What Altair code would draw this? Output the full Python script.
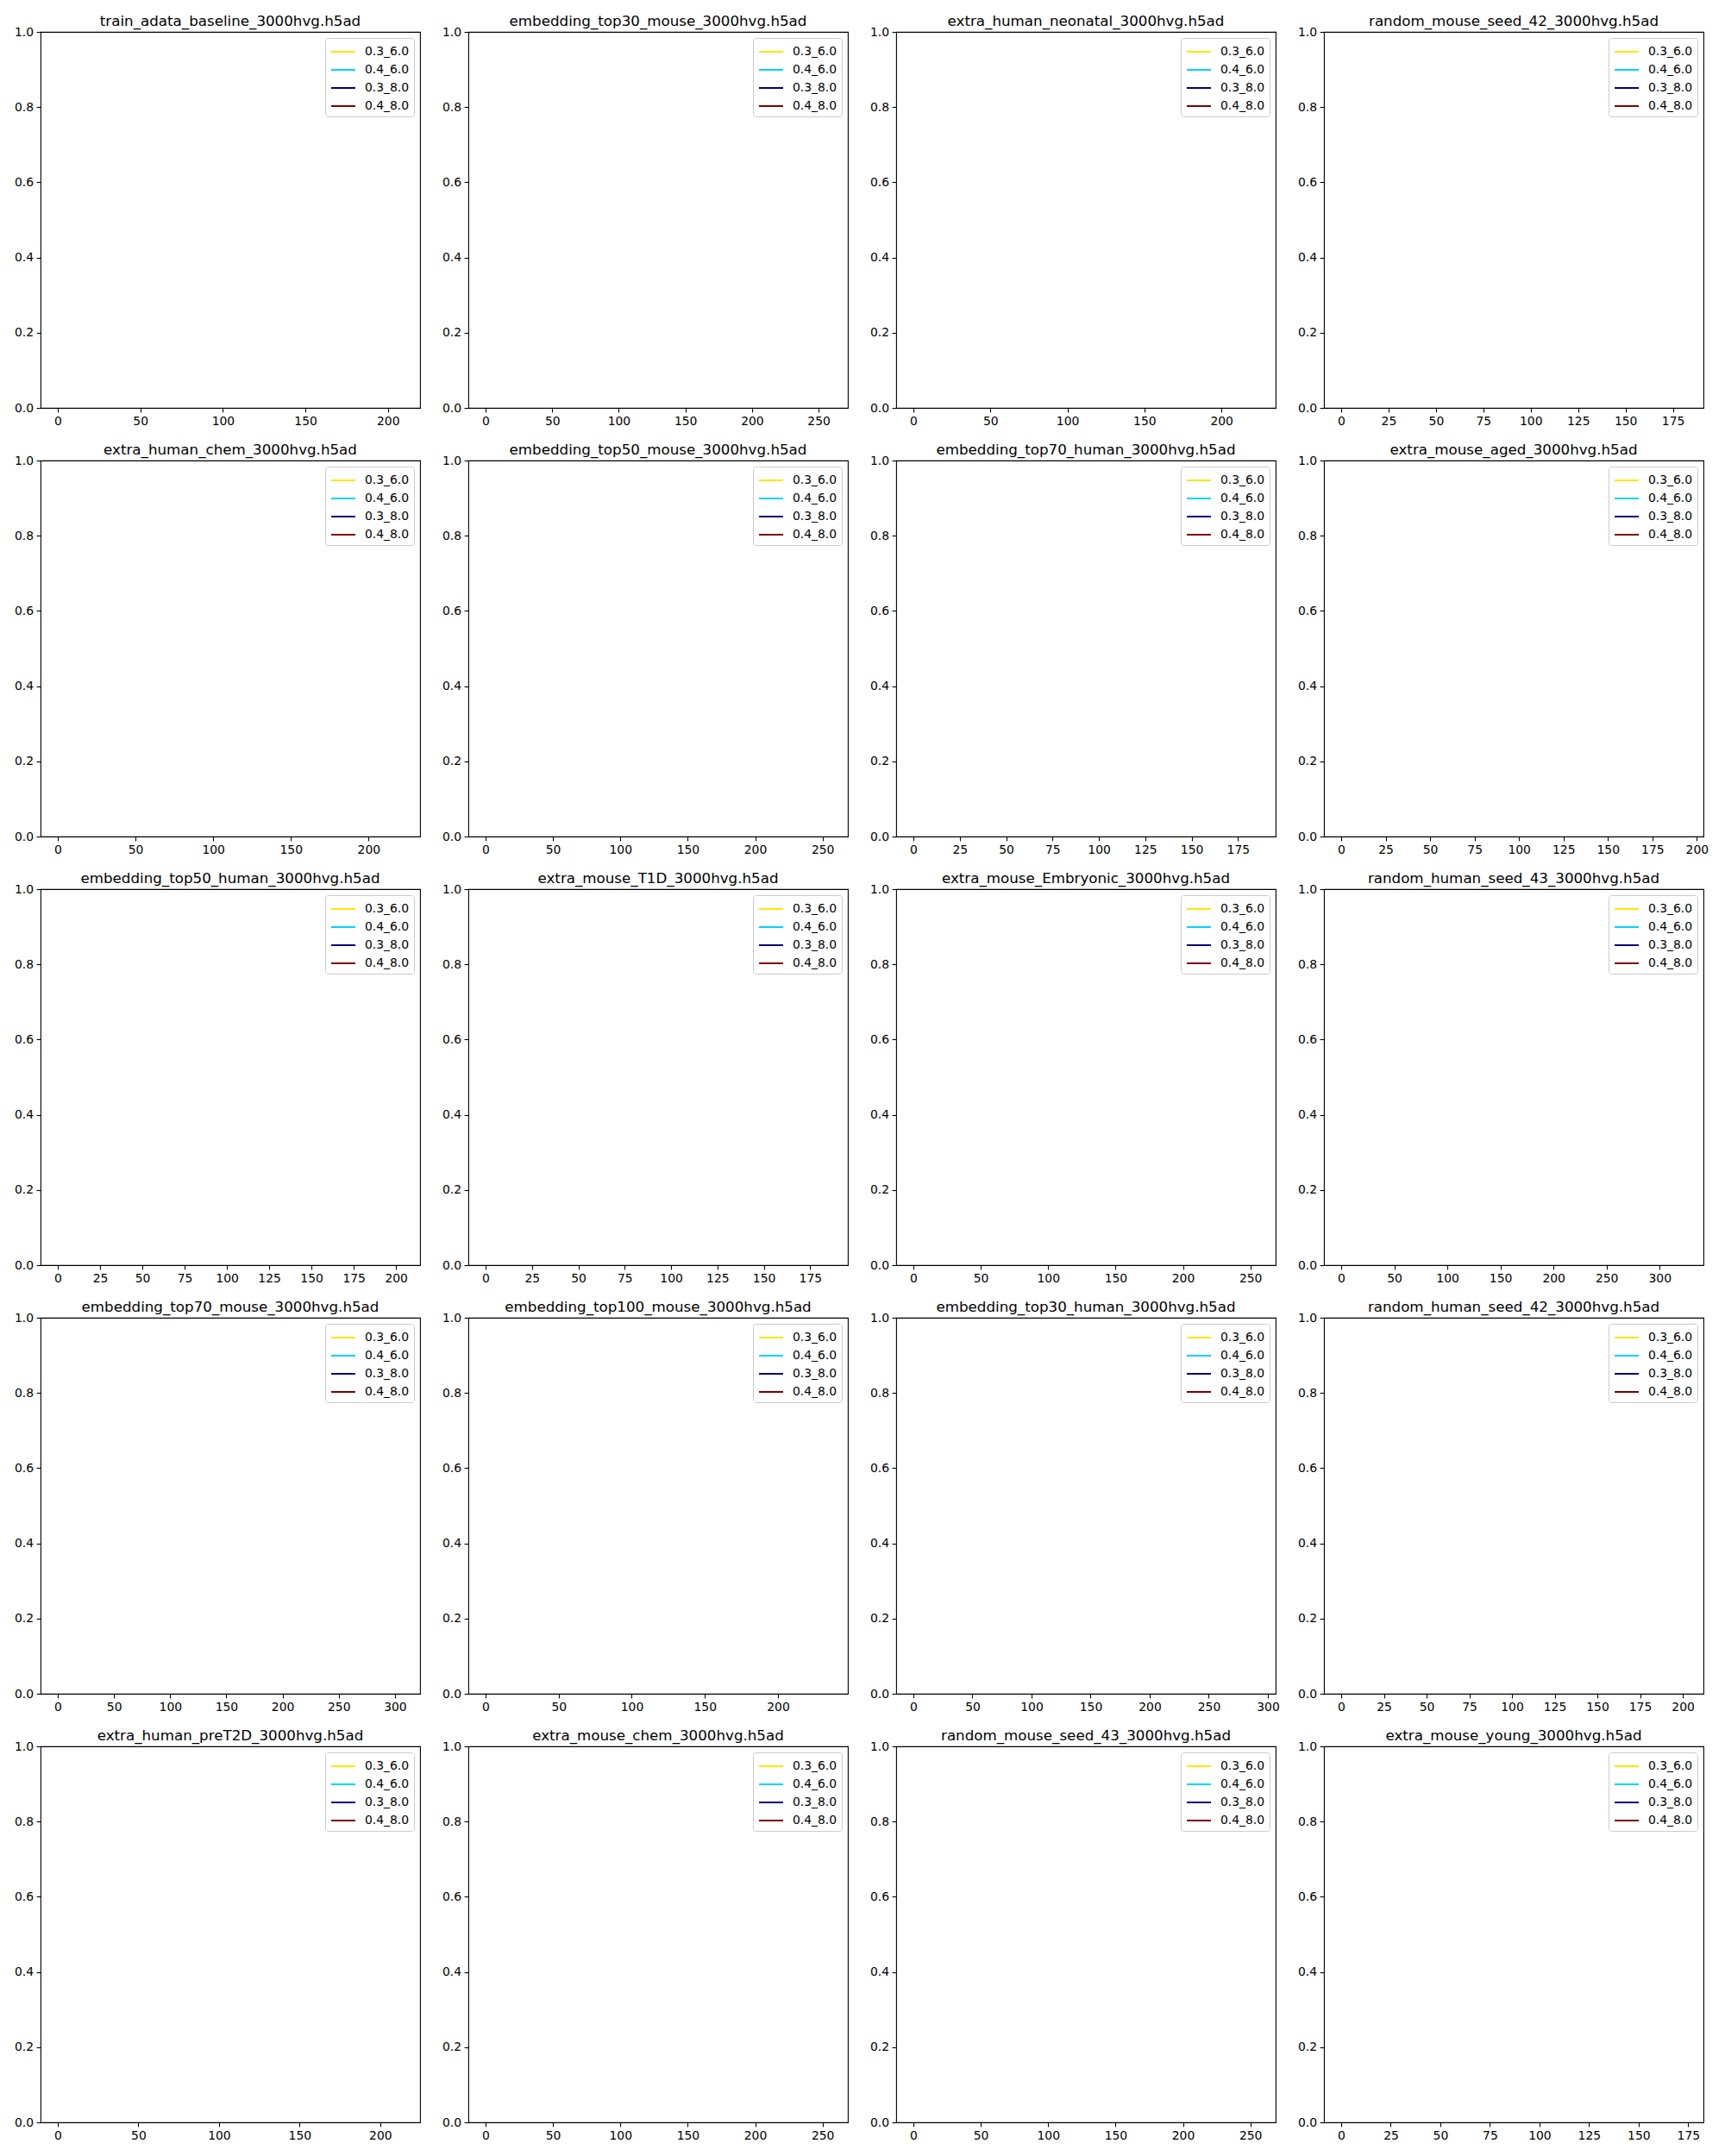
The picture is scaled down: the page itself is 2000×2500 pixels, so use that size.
import altair as alt
import pandas as pd

titles = [
    "train_adata_baseline_3000hvg.h5ad", "embedding_top30_mouse_3000hvg.h5ad",
    "extra_human_neonatal_3000hvg.h5ad", "random_mouse_seed_42_3000hvg.h5ad",
    "extra_human_chem_3000hvg.h5ad", "embedding_top50_mouse_3000hvg.h5ad",
    "embedding_top70_human_3000hvg.h5ad", "extra_mouse_aged_3000hvg.h5ad",
    "embedding_top50_human_3000hvg.h5ad", "extra_mouse_T1D_3000hvg.h5ad",
    "extra_mouse_Embryonic_3000hvg.h5ad", "random_human_seed_43_3000hvg.h5ad",
    "embedding_top70_mouse_3000hvg.h5ad", "embedding_top100_mouse_3000hvg.h5ad",
    "embedding_top30_human_3000hvg.h5ad", "random_human_seed_42_3000hvg.h5ad",
    "extra_human_preT2D_3000hvg.h5ad", "extra_mouse_chem_3000hvg.h5ad",
    "random_mouse_seed_43_3000hvg.h5ad", "extra_mouse_young_3000hvg.h5ad",
]
# largest x value of each panel's data
x_max = [209, 259, 224, 182,
         222, 256, 186, 194,
         204, 186, 256, 325,
         307, 236, 292, 202,
         214, 256, 256, 174]
tick_step = [50, 50, 50, 25,
             50, 50, 25, 25,
             25, 25, 50, 50,
             50, 50, 50, 25,
             50, 50, 50, 25]
series = ["0.3_6.0", "0.4_6.0", "0.3_8.0", "0.4_8.0"]
colors = ["#FFE600", "#00D4FF", "#000080", "#800000"]
y_ticks = [0.0, 0.2, 0.4, 0.6, 0.8, 1.0]

FONT = "DejaVu Sans"


def panel(i):
    n = x_max[i]
    lo, hi = -0.05 * n, 1.05 * n
    ticks = list(range(0, int(hi) + 1, tick_step[i]))
    df = pd.DataFrame({"x": [0.0] * len(series), "y": [None] * len(series), "series": series})
    return alt.Chart(df, title=alt.TitleParams(titles[i])).mark_line(strokeWidth=2).encode(
        x=alt.X("x:Q", scale=alt.Scale(domain=[lo, hi], nice=False, zero=False),
                axis=alt.Axis(values=ticks, title=None, format="d")),
        y=alt.Y("y:Q", scale=alt.Scale(domain=[0, 1], nice=False, zero=False),
                axis=alt.Axis(values=y_ticks, title=None, format=".1f")),
        color=alt.Color("series:N", sort=series,
                        scale=alt.Scale(domain=series, range=colors),
                        legend=alt.Legend(title=None, orient="top-right")),
    ).properties(width=440, height=436)


chart = alt.concat(
    *[panel(i) for i in range(len(titles))],
    columns=4, spacing={"row": 61, "column": 56}, bounds="flush",
).resolve_scale(
    color="independent", x="independent", y="independent"
).properties(
    padding={"left": 15, "top": 16, "right": 5, "bottom": 5},
    background="white",
).configure_view(
    stroke="black", strokeWidth=1.1
).configure_axis(
    grid=False, domain=False, ticks=True, tickColor="black", tickWidth=1.1, tickSize=4.9,
    labelPadding=3.5, labelFont=FONT, labelFontSize=13.9, labelColor="black",
).configure_title(
    font=FONT, fontSize=16.7, fontWeight="normal", color="black", anchor="middle", offset=-4,
).configure_legend(
    labelFont=FONT, labelFontSize=13.9, labelColor="black",
    strokeColor="#cccccc", fillColor="white", cornerRadius=3, padding=5, offset=7,
    symbolType="M-0.9,0L1.9,0", symbolSize=400, symbolStrokeWidth=2, labelOffset=19, rowPadding=3,
)

chart.save("out.html", embed_options={"renderer": "svg", "actions": False})
